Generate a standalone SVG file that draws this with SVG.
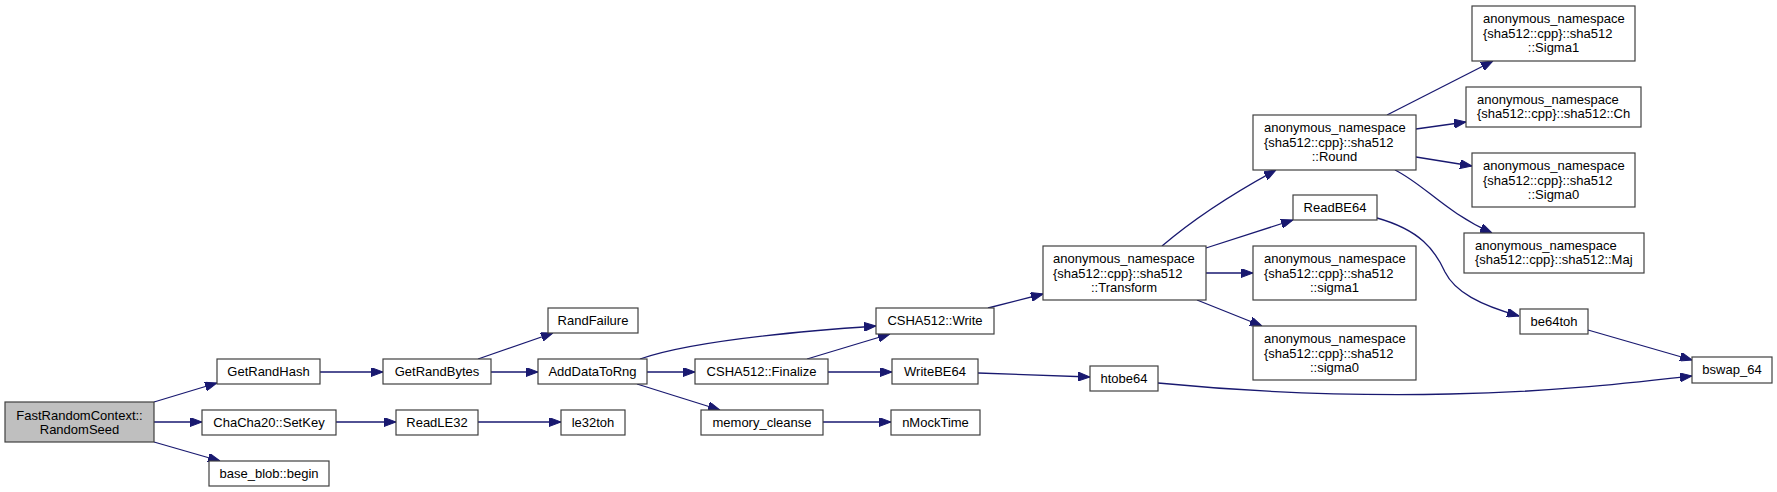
<svg xmlns="http://www.w3.org/2000/svg" width="1777" height="492" viewBox="0 0 1777 492">
<style>
.n rect{fill:#fff;stroke:#404040;stroke-width:1.2}
.n.main rect{fill:#bfbfbf}
text{font-family:"Liberation Sans",Arial,sans-serif;font-size:13px;fill:#000}
.c{text-anchor:middle}
#edges path{fill:none;stroke:#191970;stroke-width:1.3;marker-end:url(#ah)}
</style>
<defs>
<marker id="ah" viewBox="0 0 12 9" refX="12" refY="4.5" markerWidth="12" markerHeight="9" markerUnits="userSpaceOnUse" orient="auto">
<path d="M0,0 L12,4.5 L0,9 z" fill="#191970" stroke="#191970" stroke-width="1"/>
</marker>
</defs>
<rect width="1777" height="492" fill="#fff"/>
<g id="edges">
<path d="M154,402 L217,383"/>
<path d="M154,422 L202,422"/>
<path d="M154,442 L220,461"/>
<path d="M320,372 L383,372"/>
<path d="M336,422 L396,422"/>
<path d="M478,422 L561,422"/>
<path d="M478,359 L553,333"/>
<path d="M491,372 L538,372"/>
<path d="M640,359 C680,345 760,334 876,326"/>
<path d="M647,372 L695,372"/>
<path d="M637,384 L720,410"/>
<path d="M807,359 L890,334"/>
<path d="M828,372 L892,372"/>
<path d="M823,422 L891,422"/>
<path d="M988,308 L1043,294"/>
<path d="M978,373 L1090,377"/>
<path d="M1162,246 C1190,222 1230,195 1276,170"/>
<path d="M1206,248 L1293,220"/>
<path d="M1206,273 L1253,273"/>
<path d="M1197,300 L1262,326"/>
<path d="M1387,115 L1493,61"/>
<path d="M1416,129 L1466,122"/>
<path d="M1416,157 L1472,166"/>
<path d="M1395,170 C1425,185 1445,212 1492,233"/>
<path d="M1377,218 C1420,230 1435,250 1445,272 C1455,292 1480,305 1519,316"/>
<path d="M1588,330 L1692,360"/>
<path d="M1158,383 C1260,393 1350,396 1450,394 C1550,392 1620,384 1692,376"/>
</g>
<g id="n_RandomSeed" class="n main"><rect x="5" y="402" width="149" height="40"/><text class="c" x="79.5" y="420">FastRandomContext::</text><text class="c" x="79.5" y="434">RandomSeed</text></g>
<g id="n_GetRandHash" class="n"><rect x="217" y="359" width="103" height="25"/><text class="c" x="268.5" y="376">GetRandHash</text></g>
<g id="n_SetKey" class="n"><rect x="202" y="410" width="134" height="25"/><text class="c" x="269" y="427">ChaCha20::SetKey</text></g>
<g id="n_begin" class="n"><rect x="209" y="461" width="120" height="25"/><text class="c" x="269" y="478">base_blob::begin</text></g>
<g id="n_GetRandBytes" class="n"><rect x="383" y="359" width="108" height="25"/><text class="c" x="437" y="376">GetRandBytes</text></g>
<g id="n_ReadLE32" class="n"><rect x="396" y="410" width="82" height="25"/><text class="c" x="437" y="427">ReadLE32</text></g>
<g id="n_RandFailure" class="n"><rect x="548" y="308" width="90" height="25"/><text class="c" x="593" y="325">RandFailure</text></g>
<g id="n_AddDataToRng" class="n"><rect x="538" y="359" width="109" height="25"/><text class="c" x="592.5" y="376">AddDataToRng</text></g>
<g id="n_le32toh" class="n"><rect x="561" y="410" width="64" height="25"/><text class="c" x="593" y="427">le32toh</text></g>
<g id="n_Write" class="n"><rect x="876" y="308" width="118" height="26"/><text class="c" x="935" y="325">CSHA512::Write</text></g>
<g id="n_Finalize" class="n"><rect x="695" y="359" width="133" height="25"/><text class="c" x="761.5" y="376">CSHA512::Finalize</text></g>
<g id="n_memory_cleanse" class="n"><rect x="701" y="410" width="122" height="25"/><text class="c" x="762" y="427">memory_cleanse</text></g>
<g id="n_WriteBE64" class="n"><rect x="892" y="359" width="86" height="25"/><text class="c" x="935" y="376">WriteBE64</text></g>
<g id="n_nMockTime" class="n"><rect x="891" y="410" width="89" height="25"/><text class="c" x="935.5" y="427">nMockTime</text></g>
<g id="n_Transform" class="n"><rect x="1043" y="246" width="163" height="54"/><text x="1053" y="263">anonymous_namespace</text><text x="1053" y="277.5">{sha512::cpp}::sha512</text><text class="c" x="1124" y="292">::Transform</text></g>
<g id="n_htobe64" class="n"><rect x="1090" y="366" width="68" height="25"/><text class="c" x="1124" y="383">htobe64</text></g>
<g id="n_Round" class="n"><rect x="1253" y="115" width="163" height="55"/><text x="1264" y="132">anonymous_namespace</text><text x="1264" y="146.5">{sha512::cpp}::sha512</text><text class="c" x="1334.5" y="161">::Round</text></g>
<g id="n_ReadBE64" class="n"><rect x="1293" y="195" width="84" height="25"/><text class="c" x="1335" y="212">ReadBE64</text></g>
<g id="n_sigma1" class="n"><rect x="1253" y="246" width="163" height="54"/><text x="1264" y="263">anonymous_namespace</text><text x="1264" y="277.5">{sha512::cpp}::sha512</text><text class="c" x="1334.5" y="292">::sigma1</text></g>
<g id="n_sigma0" class="n"><rect x="1253" y="326" width="163" height="54"/><text x="1264" y="343">anonymous_namespace</text><text x="1264" y="357.5">{sha512::cpp}::sha512</text><text class="c" x="1334.5" y="372">::sigma0</text></g>
<g id="n_Sigma1" class="n"><rect x="1472" y="6" width="163" height="55"/><text x="1483" y="23">anonymous_namespace</text><text x="1483" y="37.5">{sha512::cpp}::sha512</text><text class="c" x="1553.5" y="52">::Sigma1</text></g>
<g id="n_Ch" class="n"><rect x="1466" y="87" width="175" height="40"/><text x="1477" y="104">anonymous_namespace</text><text x="1477" y="118">{sha512::cpp}::sha512::Ch</text></g>
<g id="n_Sigma0" class="n"><rect x="1472" y="153" width="163" height="54"/><text x="1483" y="170">anonymous_namespace</text><text x="1483" y="184.5">{sha512::cpp}::sha512</text><text class="c" x="1553.5" y="199">::Sigma0</text></g>
<g id="n_Maj" class="n"><rect x="1464" y="233" width="180" height="40"/><text x="1475" y="250">anonymous_namespace</text><text x="1475" y="264">{sha512::cpp}::sha512::Maj</text></g>
<g id="n_be64toh" class="n"><rect x="1520" y="309" width="68" height="25"/><text class="c" x="1554" y="326">be64toh</text></g>
<g id="n_bswap_64" class="n"><rect x="1692" y="357" width="80" height="26"/><text class="c" x="1732" y="374">bswap_64</text></g>
</svg>
